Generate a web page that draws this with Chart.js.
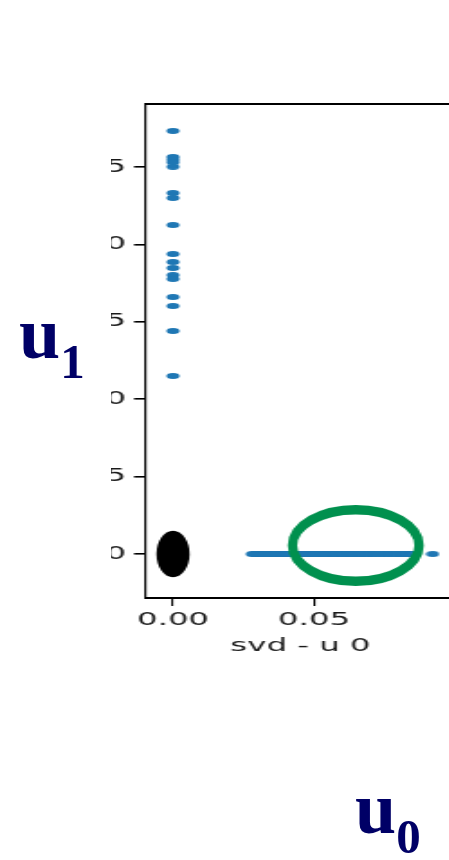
<!DOCTYPE html>
<html>
<head>
<meta charset="utf-8">
<script src="https://cdn.jsdelivr.net/npm/chart.js@4.4.1/dist/chart.umd.min.js"></script>
<style>
body { margin:0; background:#fff; width:449px; height:860px; overflow:hidden; position:relative; }
.lbl { position:absolute; font-family:'Liberation Serif', serif; font-weight:bold; font-size:74px; line-height:74px; color:#000066; white-space:nowrap; }
.lbl span { font-size:49px; position:relative; top:20px; }
#clip { position:absolute; left:111px; top:0; width:338px; height:700px; overflow:hidden; }
#stretch { position:absolute; left:-37px; top:0; transform:scaleX(1.8); transform-origin:0 0; }
canvas { display:block; }
</style>
</head>
<body>
<div id="clip"><div id="stretch"><canvas id="mycanvas" width="222" height="670"></canvas></div></div>
<div class="lbl" style="left:19px;top:296px">u<span>1</span></div>
<div class="lbl" style="left:355px;top:771px">u<span>0</span></div>
<script>
// docs sitting on u0 = 0 (the vertical column)
var colU1 = [0.2733, 0.2565, 0.2548, 0.2530, 0.2502, 0.2332, 0.2300, 0.2125, 0.1938, 0.1886,
  0.1848, 0.1802, 0.1777, 0.1660, 0.1602, 0.1441, 0.1150];
// docs sitting on u1 = 0 (the horizontal streak)
var rowU0 = [0.0281, 0.0290, 0.0297, 0.0305, 0.0314, 0.0320, 0.0329,
  0.0337, 0.0344, 0.0353, 0.0361, 0.0368, 0.0377, 0.0385, 0.0392, 0.0401, 0.0409,
  0.0416, 0.0425, 0.0433, 0.0440, 0.0449, 0.0457, 0.0464, 0.0473, 0.0481, 0.0488,
  0.0497, 0.0505, 0.0512, 0.0521, 0.0529, 0.0536, 0.0545, 0.0553, 0.0560, 0.0569,
  0.0577, 0.0584, 0.0593, 0.0601, 0.0608, 0.0617, 0.0625, 0.0632, 0.0641, 0.0649,
  0.0656, 0.0665, 0.0673, 0.0680, 0.0689, 0.0697, 0.0704,
  0.0716, 0.0727, 0.0741, 0.0750, 0.0763, 0.0772, 0.0786, 0.0797, 0.0808, 0.0819,
  0.0831, 0.0840, 0.0848, 0.0921];
var xTicks = [0, 0.05];
var yTicks = [0, 0.05, 0.10, 0.15, 0.20, 0.25];

Chart.defaults.font.family = 'DejaVu Sans';

// small squashed dot, the canvas gets stretched later
var dot = document.createElement('canvas');
dot.width = 8; dot.height = 6;
var dctx = dot.getContext('2d');
dctx.fillStyle = '#1f77b4';
dctx.beginPath();
dctx.ellipse(4, 3, 3.6, 2.9, 0, 0, 2 * Math.PI);
dctx.fill();

var points = [];
for (var i in colU1) points.push({x: 0, y: colU1[i]});
for (var j in rowU0) points.push({x: rowU0[j], y: 0});

var marks = {
  id: 'marks',
  afterDatasetsDraw: function(chart) {
    var c = chart.ctx, xs = chart.scales.x, ys = chart.scales.y, a = chart.chartArea;
    c.save();
    // top spine
    c.strokeStyle = '#000';
    c.lineWidth = 2;
    c.beginPath(); c.moveTo(a.left, a.top); c.lineTo(a.right, a.top); c.stroke();
    // black blob over the origin
    c.fillStyle = '#000';
    c.beginPath();
    c.ellipse(xs.getPixelForValue(0), ys.getPixelForValue(0), 9.2, 23.3, 0, 0, 2 * Math.PI);
    c.fill();
    // green ring, undo the stretch so the stroke stays even
    c.translate(xs.getPixelForValue(0.0648), ys.getPixelForValue(0.0055));
    c.scale(1 / 1.8, 1);
    c.strokeStyle = '#00904e';
    c.lineWidth = 9.5;
    c.beginPath();
    c.ellipse(0, 0, 63.3, 35.8, 0, 0, 2 * Math.PI);
    c.stroke();
    c.restore();
  }
};

var ctx = document.getElementById('mycanvas');
new Chart(ctx, {
  type: 'scatter',
  data: {
    datasets: [{
      label: 'docs',
      data: points,
      pointStyle: dot,
      pointRadius: 3,
      backgroundColor: '#1f77b4',
      borderWidth: 0
    }]
  },
  plugins: [marks],
  options: {
    responsive: false,
    animation: false,
    layout: { padding: { top: 104, left: 0, right: 10.33, bottom: 0 } },
    plugins: { legend: { display: false }, tooltip: { enabled: false } },
    scales: {
      x: {
        type: 'linear', min: -0.009574, max: 0.1,
        afterBuildTicks: function(s) { s.ticks = xTicks.map(function(v) { return {value: v}; }); },
        afterFit: function(s) { s.height = 72; },
        grid: { drawOnChartArea: false, drawTicks: true, tickLength: 8, lineWidth: 1.1, color: '#000' },
        border: { display: true, color: '#000', width: 2 },
        ticks: { color: '#1a1a1a', font: { size: 18 }, padding: 4, maxRotation: 0,
          callback: function(v) { return v.toFixed(2); } },
        title: { display: true, text: 'svd - u 0', color: '#1a1a1a', font: { size: 18 },
          padding: { top: 4, bottom: 13 } }
      },
      y: {
        type: 'linear', min: -0.0284, max: 0.2907,
        afterBuildTicks: function(s) { s.ticks = yTicks.map(function(v) { return {value: v}; }); },
        afterFit: function(s) { s.width = 40; },
        grid: { drawOnChartArea: false, drawTicks: true, tickLength: 6.67, lineWidth: 1.6, color: '#000' },
        border: { display: true, color: '#000', width: 1.2 },
        ticks: { color: '#1a1a1a', font: { size: 18 }, padding: 4.5,
          callback: function(v) { return v.toFixed(2); } }
      }
    }
  }
});
</script>
</body>
</html>
